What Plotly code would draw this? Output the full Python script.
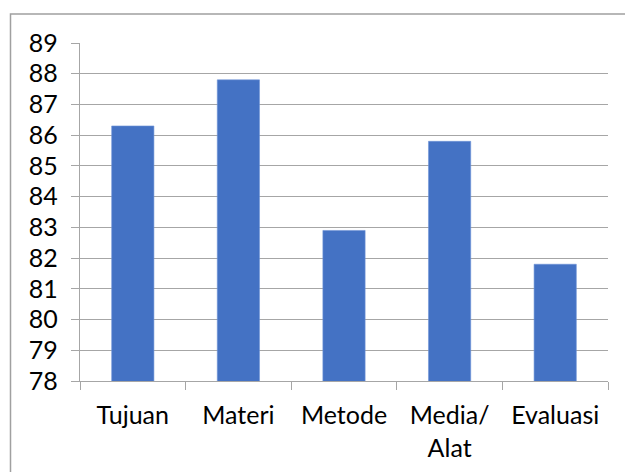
import plotly.graph_objects as go

categories = ["Tujuan", "Materi", "Metode", "Media/<br>Alat", "Evaluasi"]
values = [86.3, 87.8, 82.9, 85.8, 81.8]
y_ticks = list(range(78, 90))

W, H = 625, 472
L, R, T, B = 80, 17, 43, 91
pw, ph = W - L - R, H - T - B

fig = go.Figure(
    go.Bar(
        x=categories,
        y=values,
        marker=dict(color="#4472C4", line=dict(color="#6f93d6", width=0.6)),
        width=0.4,
    )
)

grid = "#a6a6a6"
fig.update_layout(
    width=W,
    height=H,
    margin=dict(l=L, r=R, t=T, b=B, autoexpand=False),
    paper_bgcolor="white",
    plot_bgcolor="white",
    showlegend=False,
    font=dict(family="Lato, Liberation Sans, sans-serif", size=25, color="#000000"),
    bargap=0.6,
)
fig.update_yaxes(
    range=[78, 89],
    tickvals=y_ticks,
    ticktext=[str(v) for v in y_ticks],
    showgrid=True,
    gridcolor=grid,
    gridwidth=1.3,
    showline=True,
    linecolor=grid,
    linewidth=1.3,
    ticks="outside",
    ticklen=8,
    tickcolor=grid,
    tickwidth=1.3,
    ticklabelstandoff=8,
    zeroline=False,
    automargin=False,
)
fig.update_xaxes(
    showline=True,
    linecolor=grid,
    linewidth=1.3,
    ticks="outside",
    tickson="boundaries",
    ticklen=8,
    tickcolor=grid,
    tickwidth=1.3,
    showgrid=False,
    ticklabelstandoff=12,
    automargin=False,
)

# outer chart frame (left and top edges visible, rest cropped)
fig.add_shape(
    type="rect",
    xref="paper",
    yref="paper",
    x0=(10.5 - L) / pw,
    x1=(W + 10 - L) / pw,
    y0=(H - B - (H + 10)) / ph,
    y1=(H - B - 14) / ph,
    line=dict(color="#a0a0a0", width=1.5),
    fillcolor="rgba(0,0,0,0)",
    layer="below",
)

fig.write_html("out.html")
